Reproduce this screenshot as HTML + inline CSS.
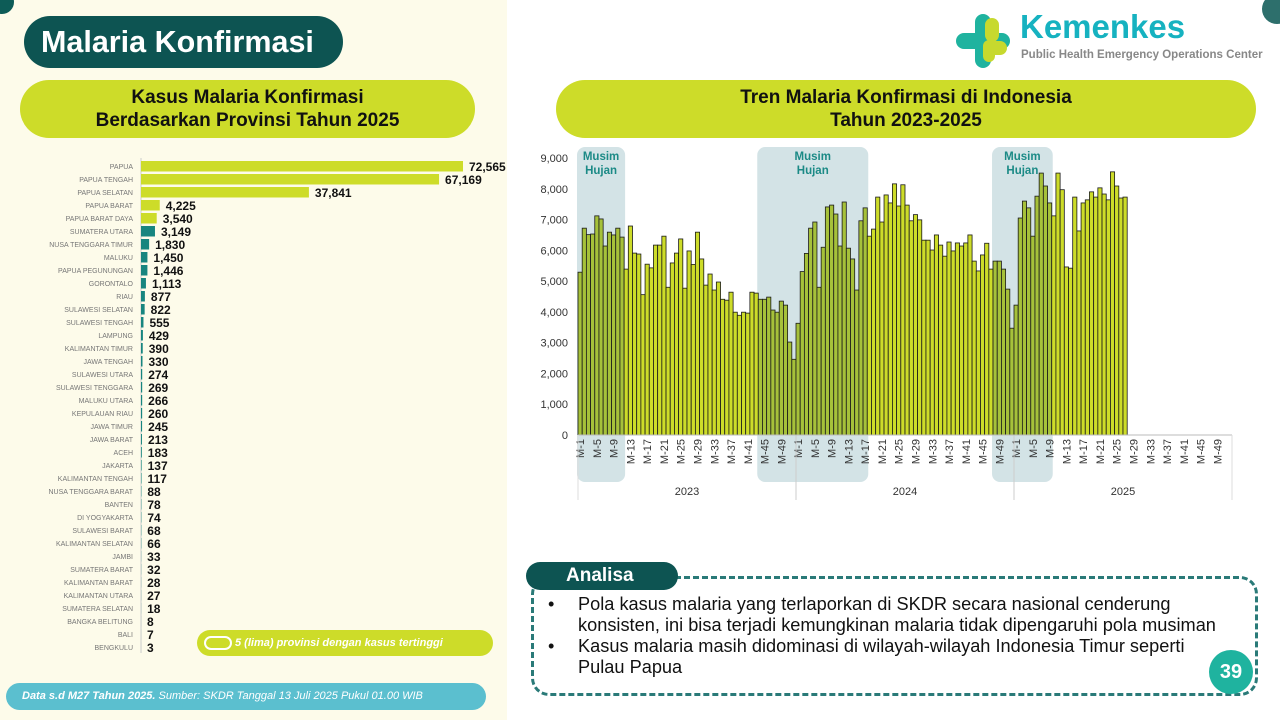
<!DOCTYPE html>
<html><head><meta charset="utf-8"><style>
*{margin:0;padding:0;box-sizing:border-box}
body{width:1280px;height:720px;overflow:hidden;background:#fff;font-family:"Liberation Sans",sans-serif;position:relative}
.abs{position:absolute}
</style></head><body>
<div class="abs" style="left:0;top:0;width:507px;height:720px;background:#fdfbea"></div>
<div class="abs" style="left:-10px;top:-10px;width:24px;height:24px;border-radius:50%;background:#0d5c57"></div>
<div class="abs" style="left:24px;top:16px;width:319px;height:52px;border-radius:26px;background:#0d5452;color:#fff;font-size:30.5px;font-weight:bold;line-height:52px;padding-left:17px">Malaria Konfirmasi</div>
<div class="abs" style="left:20px;top:80px;width:455px;height:58px;border-radius:29px;background:#cddc29;color:#111;font-size:19px;font-weight:bold;text-align:center;line-height:23px;padding-top:6px">Kasus Malaria Konfirmasi<br>Berdasarkan Provinsi Tahun 2025</div>
<svg class="abs" style="left:0;top:150px" width="507" height="520" id="pchart"></svg>
<div class="abs" style="left:197px;top:630px;width:296px;height:26px;border-radius:13px;background:#cddc29;color:#fff;font-size:11px;font-style:italic;font-weight:bold;line-height:26px;padding-left:38px">5 (lima) provinsi dengan kasus tertinggi</div>
<div class="abs" style="left:204px;top:636px;width:28px;height:14px;border:2.5px solid #fff;border-radius:8px"></div>
<div class="abs" style="left:6px;top:683px;width:480px;height:27px;border-radius:14px;background:#5bbfcf;color:#fff;font-size:11px;font-style:italic;line-height:27px;padding-left:16px"><b>Data s.d M27 Tahun 2025.</b> Sumber: SKDR Tanggal 13 Juli 2025 Pukul 01.00 WIB</div>

<div class="abs" style="left:953px;top:10px;width:60px;height:62px">
<svg width="60" height="62"><rect x="22" y="4" width="16" height="54" rx="8" fill="#1fb39f"/><rect x="3" y="23" width="54" height="16" rx="8" fill="#1fb39f"/><rect x="32" y="8" width="14" height="24" rx="7" fill="#c7d92e"/><rect x="32" y="31" width="22" height="14" rx="7" fill="#c7d92e"/><rect x="30" y="30" width="12" height="22" rx="6" fill="#c7d92e"/></svg></div>
<div class="abs" style="left:1020px;top:8px;color:#16b2c0;font-size:33px;font-weight:bold">Kemenkes</div>
<div class="abs" style="left:1021px;top:49px;color:#888;font-size:11.5px;font-weight:bold">Public Health Emergency Operations Center</div>
<div class="abs" style="left:1262px;top:-6px;width:30px;height:30px;border-radius:50%;background:#2d6f6c"></div>

<div class="abs" style="left:556px;top:80px;width:700px;height:58px;border-radius:29px;background:#cddc29;color:#111;font-size:19px;font-weight:bold;text-align:center;line-height:23px;padding-top:6px">Tren Malaria Konfirmasi di Indonesia<br>Tahun 2023-2025</div>
<svg class="abs" style="left:520px;top:140px" width="740" height="370" id="tchart"></svg>

<div class="abs" style="left:531px;top:576px;width:727px;height:120px;border:3px dashed #2a7a78;border-radius:18px"></div>
<div class="abs" style="left:526px;top:562px;width:152px;height:28px;border-radius:14px;background:#0d5452;color:#fff;font-size:19px;font-weight:bold;line-height:28px;padding-left:40px">Analisa</div>
<div class="abs" style="left:548px;top:594px;width:710px;color:#111;font-size:18.2px;line-height:21px">
<div style="display:flex"><span style="width:30px;flex:none">•</span><span style="white-space:nowrap">Pola kasus malaria yang terlaporkan di SKDR secara nasional cenderung<br>konsisten, ini bisa terjadi kemungkinan malaria tidak dipengaruhi pola musiman</span></div>
<div style="display:flex"><span style="width:30px;flex:none">•</span><span>Kasus malaria masih didominasi di wilayah-wilayah Indonesia Timur seperti<br>Pulau Papua</span></div></div>
<div class="abs" style="left:1209px;top:650px;width:44px;height:44px;border-radius:50%;background:#1fb39f;color:#fff;font-size:20px;font-weight:bold;text-align:center;line-height:44px">39</div>

<script>
const NS='http://www.w3.org/2000/svg';
function mk(svg,tag,attrs,txt){const e=document.createElementNS(NS,tag);for(const k in attrs)e.setAttribute(k,attrs[k]);if(txt!==undefined)e.textContent=txt;svg.appendChild(e);return e;}

// ---- province chart data
const provinces=["PAPUA","PAPUA TENGAH","PAPUA SELATAN","PAPUA BARAT","PAPUA BARAT DAYA","SUMATERA UTARA","NUSA TENGGARA TIMUR","MALUKU","PAPUA PEGUNUNGAN","GORONTALO","RIAU","SULAWESI SELATAN","SULAWESI TENGAH","LAMPUNG","KALIMANTAN TIMUR","JAWA TENGAH","SULAWESI UTARA","SULAWESI TENGGARA","MALUKU UTARA","KEPULAUAN RIAU","JAWA TIMUR","JAWA BARAT","ACEH","JAKARTA","KALIMANTAN TENGAH","NUSA TENGGARA BARAT","BANTEN","DI YOGYAKARTA","SULAWESI BARAT","KALIMANTAN SELATAN","JAMBI","SUMATERA BARAT","KALIMANTAN BARAT","KALIMANTAN UTARA","SUMATERA SELATAN","BANGKA BELITUNG","BALI","BENGKULU"];
const provCases=[72565,67169,37841,4225,3540,3149,1830,1450,1446,1113,877,822,555,429,390,330,274,269,266,260,245,213,183,137,117,88,78,74,68,66,33,32,28,27,18,8,7,3];

(function(){
const svg=document.getElementById('pchart');
const x0=141,maxW=322,top=16,step=13.0;
const xs=v=>v/72565*maxW;
mk(svg,'line',{x1:x0,y1:8,x2:x0,y2:503,stroke:'#ccc','stroke-width':1});
provinces.forEach((p,i)=>{
 const y=top+i*step;
 const t=mk(svg,'text',{x:133,y:y+3,'text-anchor':'end','font-size':7,fill:'#777','font-family':'Liberation Sans'},p);
 
 
 const w=Math.max(xs(provCases[i]),provCases[i]>300?1.5:0);
 const r=mk(svg,'rect',{x:x0,y:y-5,width:w,height:10.5,fill:i<5?'#cddc29':'#17857f'});
 
 
 const v=mk(svg,'text',{x:x0+w+6,y:y+5,'font-size':12,'font-weight':'bold',fill:'#111','font-family':'Liberation Sans'},provCases[i].toLocaleString('en-US'));
 
 
});
})();

// ---- trend chart data
const years=["2023","2024","2025"];
const cases2023=[5290,6720,6510,6530,7120,7020,6140,6590,6500,6720,6430,5390,6790,5910,5880,4560,5550,5430,6170,6170,6460,4800,5590,5910,6370,4770,5980,5540,6590,5720,4870,5230,4710,4970,4410,4380,4640,3990,3890,3990,3960,4640,4610,4410,4410,4480,4060,3990,4350,4220,3020,2460];
const cases2024=[3630,5310,5900,6720,6920,4800,6100,7410,7470,7180,6140,7570,6070,5720,4710,6960,7380,6460,6690,7730,6920,7800,7540,8160,7440,8130,7470,6960,7160,6990,6330,6330,6010,6500,6170,5810,6270,5980,6240,6140,6240,6500,5650,5330,5850,6230,5390,5650,5650,5390,4740,3470];
const cases2025=[4220,7050,7600,7380,6460,7760,8510,8090,7540,7120,8510,7970,5460,5420,7730,6630,7540,7640,7900,7730,8030,7830,7640,8550,8090,7700,7730];
const yTicks=[0,1000,2000,3000,4000,5000,6000,7000,8000,9000];
const weekTicks=["M-1","M-5","M-9","M-13","M-17","M-21","M-25","M-29","M-33","M-37","M-41","M-45","M-49"];
// rainy seasons as [start global week index, end global week index]
const seasonStart=[0,43,99];
const seasonEnd=[10,68,112];

(function(){
const svg=document.getElementById('tchart');
const ox=520,oy=140;
const X0=578-ox,X1=1232-ox,Y0=435-oy,Ytop=158-oy;
const bw=(X1-X0)/156;
const xw=i=>X0+i*bw;
const yv=v=>Y0-(v/9000)*(Y0-Ytop);
seasonStart.forEach((s,k)=>{
 const r=mk(svg,'rect',{x:xw(s)-1,y:147-oy,width:(seasonEnd[k]-s+1)*bw+2,height:482-147,rx:8,fill:'#d3e3e6'});
 
 
 const cx=xw(s)+(seasonEnd[k]-s+1)*bw/2;
 const t1=mk(svg,'text',{x:cx,y:160-oy,'text-anchor':'middle','font-size':11.5,'font-weight':'bold',fill:'#1b8a86'},'Musim');
 
 
 const t2=mk(svg,'text',{x:cx,y:174-oy,'text-anchor':'middle','font-size':11.5,'font-weight':'bold',fill:'#1b8a86'},'Hujan');
 
 
});
yTicks.forEach(v=>{
 const t=mk(svg,'text',{x:568-ox,y:yv(v)+4,'text-anchor':'end','font-size':11,fill:'#333'},v.toLocaleString('en-US'));
 
 
});
const all=[cases2023,cases2024,cases2025];
all.forEach((arr,yi)=>{
 arr.forEach((v,w)=>{
  const g=yi*52+w;
  let inS=false;seasonStart.forEach((s,k)=>{if(g>=s&&g<=seasonEnd[k])inS=true;});
  const r=mk(svg,'rect',{x:xw(g),y:yv(v),width:bw,height:Y0-yv(v),fill:inS?'#a6c13a':'#cddc29',stroke:'#1a1a1a','stroke-width':0.8});
  
  
 });
 weekTicks.forEach(lbl=>{
  const n=parseInt(lbl.slice(2));
  const cx=xw(yi*52+n-1)+bw/2;
  const t=mk(svg,'text',{x:0,y:0,transform:`translate(${cx+4},${Y0+4}) rotate(-90)`,'text-anchor':'end','font-size':11,fill:'#333'},lbl);
  
  
 });
 const yl=mk(svg,'text',{x:xw(yi*52+26),y:495-oy,'text-anchor':'middle','font-size':11,fill:'#333'},years[yi]);
 
 
 if(yi>0)mk(svg,'line',{x1:xw(yi*52),y1:Y0,x2:xw(yi*52),y2:500-oy,stroke:'#ccc'});
});
mk(svg,'line',{x1:X0,y1:Y0,x2:X1,y2:Y0,stroke:'#bbb'});
mk(svg,'line',{x1:X1,y1:Y0,x2:X1,y2:500-oy,stroke:'#ddd'});
mk(svg,'line',{x1:X0,y1:Y0,x2:X0,y2:500-oy,stroke:'#ddd'});
})();
</script>
</body></html>
